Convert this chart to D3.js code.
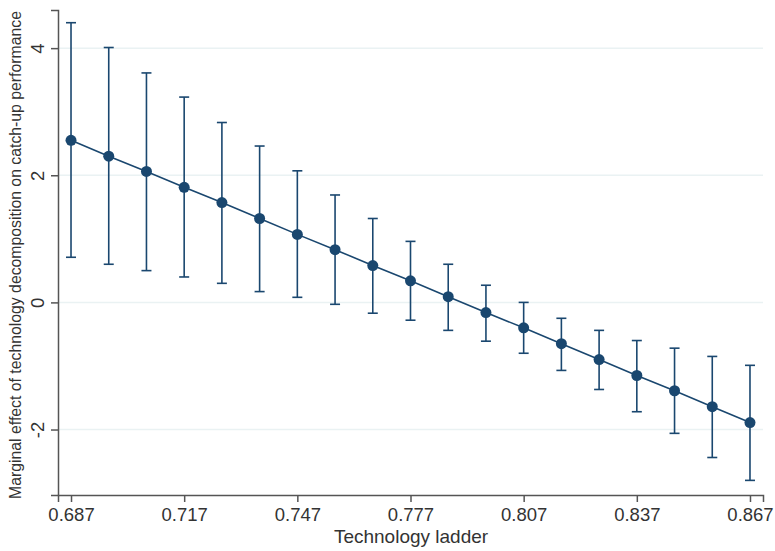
<!doctype html>
<html lang="en">

<head>
  <meta charset="utf-8">
  <title>Marginal effect - D3</title>
  <style>
    body { margin: 0; background: #fff; }
    text { font-family: "Liberation Sans", Arial, sans-serif; }
  </style>
</head>

<body>
  <svg width="775" height="551"></svg>

  <script src="https://cdn.jsdelivr.net/npm/d3@7/dist/d3.min.js"></script>
  <script>
    // technology ladder values and the estimated marginal effect with 95% CI
    var ladder = [0.687, 0.697, 0.707, 0.717, 0.727, 0.737, 0.747, 0.757, 0.767, 0.777,
      0.787, 0.797, 0.807, 0.817, 0.827, 0.837, 0.847, 0.857, 0.867];
    var effect = [2.55, 2.30, 2.06, 1.81, 1.57, 1.32, 1.07, 0.83, 0.58, 0.34,
      0.09, -0.16, -0.40, -0.65, -0.90, -1.15, -1.39, -1.64, -1.89];
    var upper = [4.40, 4.01, 3.61, 3.23, 2.83, 2.46, 2.07, 1.69, 1.32, 0.96,
      0.60, 0.27, 0.00, -0.25, -0.44, -0.60, -0.72, -0.85, -0.99];
    var lower = [0.71, 0.60, 0.50, 0.40, 0.30, 0.17, 0.08, -0.03, -0.17, -0.28,
      -0.44, -0.61, -0.80, -1.07, -1.37, -1.72, -2.06, -2.44, -2.80];
    var xTicks = [0.687, 0.717, 0.747, 0.777, 0.807, 0.837, 0.867];
    var yTicks = [-2, 0, 2, 4];

    var navy = '#1a476f';
    var svg = d3.select('svg');

    var x = d3.scaleLinear().domain([0.68355, 0.87045]).range([58, 763]);
    var y = d3.scaleLinear().domain([-3.03, 4.6]).range([495, 10]);

    var data = ladder.map((v, i) => ({ x: v, m: effect[i], hi: upper[i], lo: lower[i] }));

    // grid lines
    svg.append('g').selectAll('line').data(yTicks).enter()
      .append('line')
      .attr('x1', 58).attr('x2', 763)
      .attr('y1', d => y(d)).attr('y2', d => y(d))
      .attr('stroke', '#eaf2f3').attr('stroke-width', 1.5);

    // axes
    var xAxis = svg.append('g')
      .attr('transform', 'translate(0,' + y.range()[0] + ')')
      .call(d3.axisBottom(x).tickValues(xTicks).tickFormat(d3.format('.3f')).tickSizeOuter(0).tickSize(7).tickPadding(6));
    var yAxis = svg.append('g')
      .attr('transform', 'translate(' + x.range()[0] + ',0)')
      .call(d3.axisLeft(y).tickValues(yTicks).tickFormat(d => String(d)).tickSizeOuter(0).tickSize(7));

    [xAxis, yAxis].forEach(a => {
      a.select('.domain').attr('stroke', '#555').attr('stroke-width', 1.5);
      a.selectAll('.tick line').attr('stroke', '#555').attr('stroke-width', 1.5);
      a.selectAll('.tick text').attr('fill', '#333').style('font-size', '18.5px');
    });

    yAxis.selectAll('.tick text')
      .attr('text-anchor', 'middle')
      .attr('dy', null)
      .attr('transform', 'rotate(-90) translate(0,-14)')
      .attr('x', 0).attr('y', 0);

    // error bars
    var bars = svg.append('g').selectAll('g').data(data).enter().append('g')
      .attr('stroke', navy).attr('stroke-width', 1.6);
    bars.append('line')
      .attr('x1', d => x(d.x)).attr('x2', d => x(d.x))
      .attr('y1', d => y(d.hi)).attr('y2', d => y(d.lo));
    bars.append('line')
      .attr('x1', d => x(d.x) - 5).attr('x2', d => x(d.x) + 5)
      .attr('y1', d => y(d.hi)).attr('y2', d => y(d.hi));
    bars.append('line')
      .attr('x1', d => x(d.x) - 5).attr('x2', d => x(d.x) + 5)
      .attr('y1', d => y(d.lo)).attr('y2', d => y(d.lo));

    // line and markers
    svg.append('path').datum(data)
      .attr('fill', 'none').attr('stroke', navy).attr('stroke-width', 1.6)
      .attr('d', d3.line().x(d => x(d.x)).y(d => y(d.m)));
    svg.append('g').selectAll('circle').data(data).enter()
      .append('circle')
      .attr('cx', d => x(d.x)).attr('cy', d => y(d.m)).attr('r', 5.5)
      .attr('fill', navy);

    // titles
    svg.append('text')
      .attr('x', 411).attr('y', 543)
      .attr('text-anchor', 'middle').attr('fill', '#333')
      .style('font-size', '19px')
      .text('Technology ladder');
    svg.append('text')
      .attr('transform', 'translate(21,255) rotate(-90)')
      .attr('text-anchor', 'middle').attr('fill', '#333')
      .style('font-size', '15.8px')
      .text('Marginal effect of technology decomposition on catch-up performance');
  </script>
</body>

</html>
